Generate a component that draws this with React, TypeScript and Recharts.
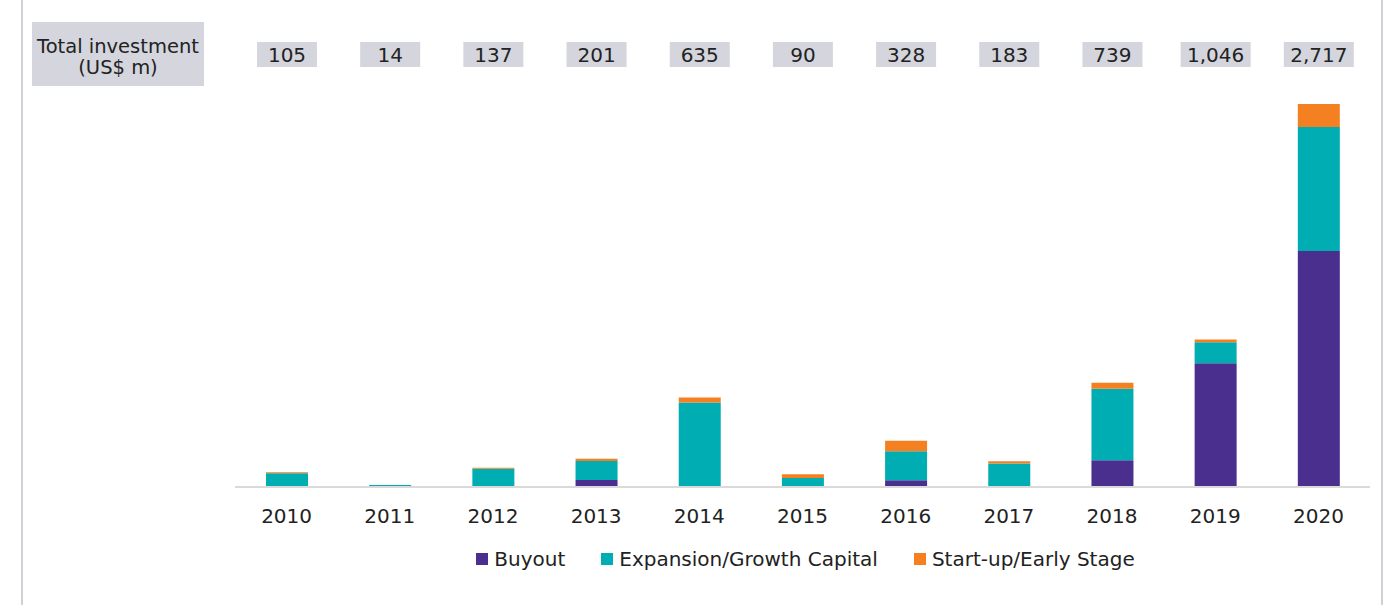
import React from 'react';
import { BarChart, Bar, XAxis, YAxis, LabelList } from 'recharts';

const years = ['2010', '2011', '2012', '2013', '2014', '2015', '2016', '2017', '2018', '2019', '2020'];
const buyout = [0, 0, 0, 50, 0, 0, 47, 0, 189, 878, 1674];
const expansion = [97, 14, 129, 135, 600, 63, 206, 166, 507, 148, 880];
const startup = [8, 0, 8, 16, 35, 27, 75, 17, 43, 20, 163];
const totalLabels = ['105', '14', '137', '201', '635', '90', '328', '183', '739', '1,046', '2,717'];
const seriesNames = ['Buyout', 'Expansion/Growth Capital', 'Start-up/Early Stage'];
const seriesColors = ['#4A2F8F', '#00ADB2', '#F58021'];

const data = years.map((y, i) => ({
  year: y,
  buyout: buyout[i],
  expansion: expansion[i],
  startup: startup[i],
  total: totalLabels[i],
}));

const FONT = '"DejaVu Sans", sans-serif';
const TEXT = '#222222';
const BOX = '#D4D5DD';

const TotalBox = (props: any) => {
  const { x, width, value } = props;
  const cx = Number(x) + Number(width) / 2;
  const w = String(value).length > 3 ? 70 : 60;
  return (
    <g>
      <rect x={cx - w / 2} y={42} width={w} height={25} fill={BOX} />
      <text x={cx} y={62} textAnchor="middle" fontSize={20} fill={TEXT} fontFamily={FONT}>
        {value}
      </text>
    </g>
  );
};

export default function App() {
  return (
    <div style={{ position: 'absolute', left: 0, top: 0, width: 1397, height: 605, background: '#fff', overflow: 'hidden' }}>
      <div style={{ position: 'absolute', left: 21, top: 0, width: 2, height: 605, background: '#CDD1D6' }} />
      <div style={{ position: 'absolute', left: 1381, top: 0, width: 2, height: 605, background: '#CDD1D6' }} />
      <div
        style={{
          position: 'absolute', left: 32, top: 22, width: 172, height: 64, background: BOX,
          fontFamily: FONT, fontSize: 19.5, lineHeight: '21px', color: TEXT, textAlign: 'center',
          paddingTop: 14, boxSizing: 'border-box', whiteSpace: 'nowrap',
        }}
      >
        <div>Total investment</div>
        <div>(US$ m)</div>
      </div>
      <BarChart
        width={1397}
        height={605}
        data={data}
        margin={{ top: 64, right: 27, bottom: 88, left: 235 }}
        style={{ position: 'absolute', left: 0, top: 0 }}
      >
        <XAxis
          dataKey="year"
          height={30}
          axisLine={{ stroke: '#DADADA', strokeWidth: 2 }}
          tickLine={false}
          tickSize={0}
          tickMargin={22}
          tick={{ fill: TEXT, fontSize: 20, fontFamily: FONT }}
          interval={0}
        />
        <YAxis hide domain={[0, 3000]} />
        <Bar dataKey="buyout" name={seriesNames[0]} stackId="a" fill={seriesColors[0]} barSize={42} isAnimationActive={false} />
        <Bar dataKey="expansion" name={seriesNames[1]} stackId="a" fill={seriesColors[1]} barSize={42} isAnimationActive={false}>
          <LabelList dataKey="total" content={<TotalBox />} />
        </Bar>
        <Bar dataKey="startup" name={seriesNames[2]} stackId="a" fill={seriesColors[2]} barSize={42} isAnimationActive={false} />
      </BarChart>
      <div
        style={{
          position: 'absolute', left: 238, width: 1135, top: 547, display: 'flex', justifyContent: 'center', gap: 36,
          fontFamily: FONT, fontSize: 20, color: TEXT, lineHeight: '24px',
        }}
      >
        {seriesNames.map((n, i) => (
          <div key={n} style={{ display: 'flex', alignItems: 'center' }}>
            <span style={{ display: 'inline-block', width: 12, height: 12, background: seriesColors[i], marginRight: 6 }} />
            <span>{n}</span>
          </div>
        ))}
      </div>
    </div>
  );
}
